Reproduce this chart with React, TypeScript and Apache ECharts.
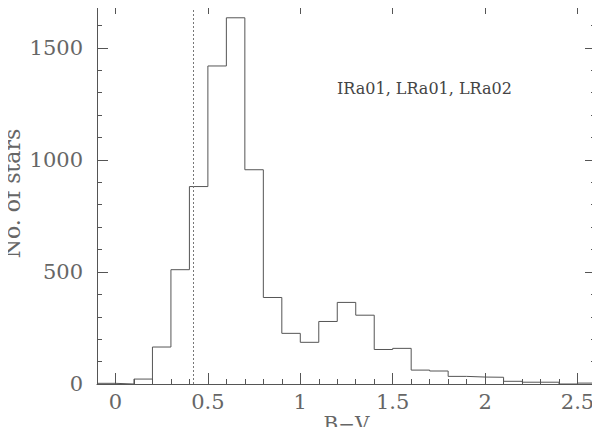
import React, { useEffect, useRef } from "react";
import * as echarts from "echarts";

// Histogram bin start edges (B-V), bin width 0.1
const binStarts = [
  -0.1, 0.0, 0.1, 0.2, 0.3, 0.4, 0.5, 0.6, 0.7, 0.8, 0.9, 1.0, 1.1, 1.2,
  1.3, 1.4, 1.5, 1.6, 1.7, 1.8, 1.9, 2.0, 2.1, 2.2, 2.3, 2.4, 2.5,
];
const binEnd = 2.6;
// Number of stars per bin
const counts = [
  3, 0, 22, 165, 510, 881, 1419, 1634, 956, 386, 226, 186, 279, 364, 307,
  154, 159, 62, 58, 34, 31, 30, 12, 8, 8, 0, 4,
];
const majorX = [0, 0.5, 1, 1.5, 2, 2.5];
const minorX = [
  -0.1, 0, 0.1, 0.2, 0.3, 0.4, 0.5, 0.6, 0.7, 0.8, 0.9, 1.0, 1.1, 1.2, 1.3,
  1.4, 1.5, 1.6, 1.7, 1.8, 1.9, 2.0, 2.1, 2.2, 2.3, 2.4, 2.5, 2.6,
];
const majorY = [0, 500, 1000, 1500];
const minorY = [
  100, 200, 300, 400, 600, 700, 800, 900, 1100, 1200, 1300, 1400, 1600, 1700,
];
const cutValue = 0.42;
const fieldLabel = "IRa01, LRa01, LRa02";

const LINE = "#555";
const TEXT = "#666";
const FONT = "DejaVu Serif";

export default function App() {
  const ref = useRef<HTMLDivElement>(null);
  useEffect(() => {
    if (!ref.current) return;
    const chart = echarts.init(ref.current, undefined, { renderer: "svg" });
    const xBase = { type: "value" as const, min: -0.1, max: 2.6 };
    const yBase = { type: "value" as const, min: 0, max: 1700 };
    const noSplit = { show: false };
    const line = (show: boolean) => ({
      show,
      onZero: false,
      lineStyle: { color: LINE, width: 1 },
    });
    const data = binStarts.map((x, i) => [x, counts[i]]);
    data.push([binEnd, counts[counts.length - 1]]);
    chart.setOption({
      animation: false,
      backgroundColor: "#fff",
      grid: [
        { left: 97, right: 4, top: 3, bottom: 51, outerBoundsMode: "none" },
        { left: 97, right: 4, top: 3, bottom: 51, outerBoundsMode: "none" },
      ],
      xAxis: [
        {
          ...xBase,
          gridIndex: 0,
          position: "bottom",
          axisLine: line(true),
          axisTick: { show: true, inside: true, length: 11, customValues: majorX, lineStyle: { color: LINE } },
          axisLabel: {
            show: true,
            customValues: majorX,
            margin: 7,
            color: TEXT,
            fontFamily: FONT,
            fontSize: 21,
            formatter: (v: number) => String(v),
          },
          splitLine: noSplit,
          name: "B\u2212V",
          nameLocation: "middle",
          nameGap: 30,
          nameMoveOverlap: false,
          nameTextStyle: { color: TEXT, fontFamily: FONT, fontSize: 20 },
        },
        {
          ...xBase,
          gridIndex: 0,
          position: "top",
          axisLine: line(true),
          axisTick: { show: true, inside: true, length: 11, customValues: majorX, lineStyle: { color: LINE } },
          axisLabel: { show: false },
          splitLine: noSplit,
        },
        {
          ...xBase,
          gridIndex: 1,
          position: "bottom",
          axisLine: line(false),
          axisTick: { show: true, inside: true, length: 5, customValues: minorX, lineStyle: { color: LINE } },
          axisLabel: { show: false },
          splitLine: noSplit,
        },
        {
          ...xBase,
          gridIndex: 1,
          position: "top",
          axisLine: line(false),
          axisTick: { show: true, inside: true, length: 5, customValues: minorX, lineStyle: { color: LINE } },
          axisLabel: { show: false },
          splitLine: noSplit,
        },
      ],
      yAxis: [
        {
          ...yBase,
          gridIndex: 0,
          position: "left",
          axisLine: line(true),
          axisTick: { show: true, inside: true, length: 11, customValues: majorY, lineStyle: { color: LINE } },
          axisLabel: {
            show: true,
            customValues: majorY,
            margin: 14,
            color: TEXT,
            fontFamily: FONT,
            fontSize: 21,
            formatter: (v: number) => String(v),
          },
          splitLine: noSplit,
          name: "No. of stars",
          nameLocation: "middle",
          nameGap: 74,
          nameRotate: 90,
          nameMoveOverlap: false,
          nameTextStyle: { color: TEXT, fontFamily: FONT, fontSize: 22 },
        },
        {
          ...yBase,
          gridIndex: 0,
          position: "right",
          axisLine: line(true),
          axisTick: { show: true, inside: true, length: 11, customValues: majorY, lineStyle: { color: LINE } },
          axisLabel: { show: false },
          splitLine: noSplit,
        },
        {
          ...yBase,
          gridIndex: 1,
          position: "left",
          axisLine: line(false),
          axisTick: { show: true, inside: true, length: 5, customValues: minorY, lineStyle: { color: LINE } },
          axisLabel: { show: false },
          splitLine: noSplit,
        },
        {
          ...yBase,
          gridIndex: 1,
          position: "right",
          axisLine: line(false),
          axisTick: { show: true, inside: true, length: 5, customValues: minorY, lineStyle: { color: LINE } },
          axisLabel: { show: false },
          splitLine: noSplit,
        },
      ],
      graphic: [
        {
          type: "text",
          left: 337,
          top: 80,
          style: {
            text: fieldLabel,
            fill: "#444",
            fontFamily: FONT,
            fontSize: 16,
          },
        },
      ],
      series: [
        {
          type: "line",
          xAxisIndex: 0,
          yAxisIndex: 0,
          step: "end",
          symbol: "none",
          data,
          lineStyle: { color: LINE, width: 1 },
          markLine: {
            silent: true,
            symbol: ["none", "none"],
            label: { show: false },
            lineStyle: { color: "#777", type: [2, 2], width: 1 },
            data: [{ xAxis: cutValue }],
          },
        },
      ],
    });
    return () => chart.dispose();
  }, []);
  return <div ref={ref} style={{ width: 600, height: 435, margin: -8 }} />;
}
